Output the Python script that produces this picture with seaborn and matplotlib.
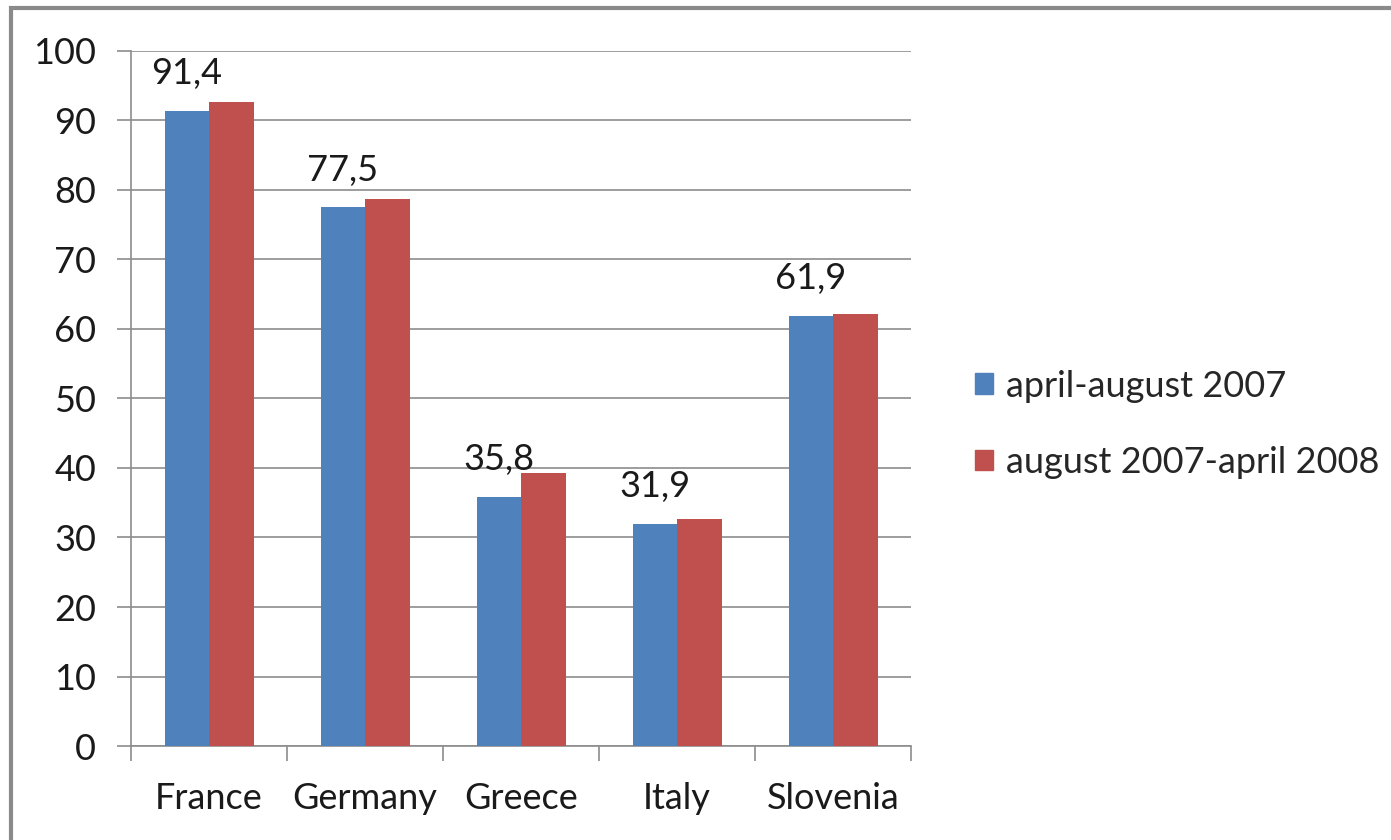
import matplotlib.pyplot as plt
import matplotlib.patches as patches
import numpy as np
import pandas as pd
import seaborn as sns

# dane
countries = ['France', 'Germany', 'Greece', 'Italy', 'Slovenia']
period1 = [91.4, 77.5, 35.8, 31.9, 61.9]
period2 = [92.6, 78.7, 39.3, 32.7, 62.1]
series_names = ['april-august 2007', 'august 2007-april 2008']
y_ticks = [0, 10, 20, 30, 40, 50, 60, 70, 80, 90, 100]

colorBlue = '#4f81bd'
colorRed = '#c0504d'
colorGrid = '#8c8c8c'
fs = 26

df = pd.DataFrame({
    'country': countries * 2,
    'value': period1 + period2,
    'period': [series_names[0]] * len(countries) + [series_names[1]] * len(countries),
})

sns.set_style('white')
plt.rcParams['font.family'] = ['Lato', 'DejaVu Sans']

fig = plt.figure(figsize=(13.91, 8.40), dpi=100)
ax = fig.add_axes([0.0942, 0.1119, 0.655 - 0.0942, 0.9393 - 0.1119])

sns.barplot(data=df, x='country', y='value', hue='period', palette=[colorBlue, colorRed],
            width=0.57, gap=0, saturation=1, errorbar=None, linewidth=0, ax=ax, zorder=3)

# etykiety tylko nad pierwszą serią
labels = [('%.1f' % v).replace('.', ',') for v in period1]
ax.bar_label(ax.containers[0], labels=labels, padding=15, fontsize=fs, color='#1a1a1a')

# osie
ax.set_ylim(0, 100)
ax.set_xlim(-0.5, len(countries) - 0.5)
ax.set_yticks(y_ticks)
ax.set_xlabel('')
ax.set_ylabel('')
ax.grid(axis='y', color=colorGrid, linewidth=1.2, zorder=0)
ax.set_axisbelow(True)
for s in ['top', 'right']:
    ax.spines[s].set_visible(False)
for s in ['left', 'bottom']:
    ax.spines[s].set_color(colorGrid)
    ax.spines[s].set_linewidth(1.2)

ax.tick_params(axis='y', which='major', length=10, width=1.2, color=colorGrid,
               labelsize=fs, pad=15, labelcolor='#1a1a1a', left=True)
ax.tick_params(axis='x', which='major', length=0, labelsize=fs, pad=26, labelcolor='#1a1a1a')
ax.set_xticks(np.arange(-0.5, len(countries)), minor=True)
ax.tick_params(axis='x', which='minor', length=11, width=1.2, color=colorGrid, bottom=True)

# legenda
handles = [patches.Patch(color=colorBlue), patches.Patch(color=colorRed)]
ax.legend(handles, series_names, loc='center left', bbox_to_anchor=(1.04, 0.463), frameon=False,
          fontsize=fs, handlelength=0.5, handleheight=0.5, handletextpad=0.35, labelspacing=1.2)

# ramka wokół wykresu
frame = patches.Rectangle((11 / 1391, -0.2), 1.5, 0.9905 + 0.2, transform=fig.transFigure,
                          fill=False, edgecolor='#8a8a8a', linewidth=3)
fig.patches.append(frame)

plt.savefig('out.png', dpi=100)
